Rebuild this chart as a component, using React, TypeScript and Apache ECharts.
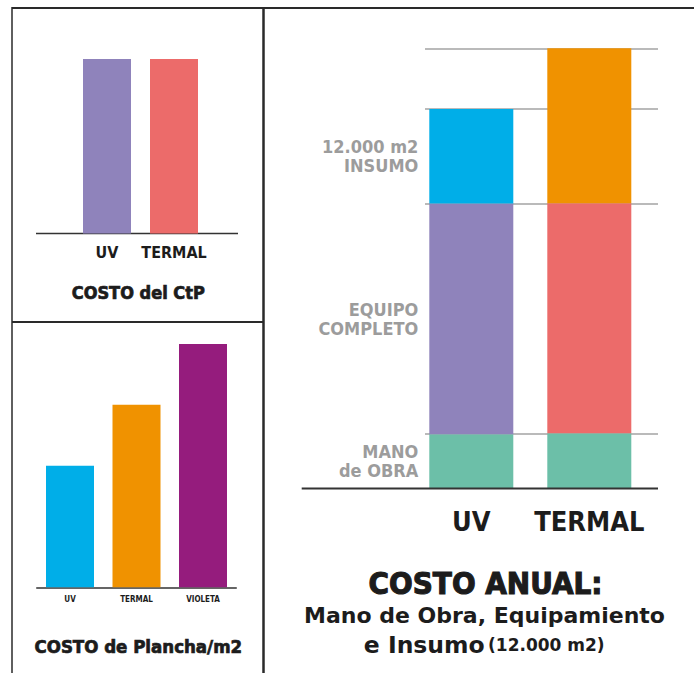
import React, { useEffect, useRef } from "react";
import * as echarts from "echarts";

// ---- Data ----
const ctpCategories = ["UV", "TERMAL"];
const ctpValues = [1, 1];
const ctpColors = ["#8f83bb", "#ec6b6a"];

const planchaCategories = ["UV", "TERMAL", "VIOLETA"];
const planchaValues = [2, 3, 4];
const planchaColors = ["#00aee8", "#f09200", "#951c7d"];

const anualCategories = ["UV", "TERMAL"];
const segmentNames = ["MANO\nde OBRA", "EQUIPO\nCOMPLETO", "12.000 m2\nINSUMO"];
const manoObra = [12.3, 12.5];
const equipo = [52.4, 52.3];
const insumo = [21.5, 35.2];
const manoColors = ["#6cbfa8", "#6cbfa8"];
const equipoColors = ["#8f83bb", "#ec6b6a"];
const insumoColors = ["#00aee8", "#f09200"];

const COND = '"DejaVu Sans Condensed", "DejaVu Sans", sans-serif';
const SANS = '"DejaVu Sans", sans-serif';
const DARK = "#1c1c1c";
const GRAY = "#9c9c9c";
const BORDER = "#2a2a2a";

export default function App() {
  const ref = useRef<HTMLDivElement>(null);

  useEffect(() => {
    document.body.style.margin = "0";
    document.body.style.overflow = "hidden";
    if (!ref.current) return;
    const chart = echarts.init(ref.current, undefined, { renderer: "svg" });

    const segments = [manoObra, equipo, insumo];
    const segColors = [manoColors, equipoColors, insumoColors];
    const totals = anualCategories.map((_, i) => segments.reduce((s, arr) => s + arr[i], 0));
    const maxTotal = Math.max(...totals);
    const gridValues = [manoObra[0], manoObra[0] + equipo[0], ...totals];

    const hiddenY = (max: number, gridIndex: number) => ({
      type: "value",
      gridIndex,
      min: 0,
      max,
      show: false,
    });

    const anualSeries = segments.map((arr, s) => ({
      type: "bar",
      name: segmentNames[s],
      stack: "anual",
      xAxisIndex: 2,
      yAxisIndex: 2,
      barWidth: 84,
      z: 3,
      label: {
        show: false,
        position: "left",
        distance: 11,
        formatter: segmentNames[s],
        color: GRAY,
        fontFamily: COND,
        fontWeight: "bold",
        fontSize: 18,
        lineHeight: 19,
        align: "right",
        verticalAlign: "middle",
      },
      data: arr.map((v, i) => ({
        value: v,
        itemStyle: { color: segColors[s][i] },
        label: { show: i === 0 },
      })),
    }));

    const catLabel = (margin: number, fontSize: number) => ({
      interval: 0,
      hideOverlap: false,
      margin,
      verticalAlign: "middle",
      color: DARK,
      fontFamily: COND,
      fontWeight: "bold",
      fontSize,
    });

    const heavy = (text: string, x: number, y: number, size: number, w: number) => ({
      type: "text",
      x,
      y,
      style: {
        text,
        fill: DARK,
        stroke: DARK,
        lineWidth: w,
        font: `bold ${size}px ${COND}`,
        align: "center",
        verticalAlign: "middle",
      },
    });

    const option: any = {
      animation: false,
      backgroundColor: "#ffffff",
      grid: [
        { left: 73.5, top: 59, width: 134, height: 174.5, outerBoundsMode: "none" },
        { left: 36.75, top: 344, width: 199.5, height: 243.3, outerBoundsMode: "none" },
        { left: 412.3, top: 48.3, width: 236, height: 440, outerBoundsMode: "none" },
        { left: 425, top: 48.3, width: 233, height: 440, outerBoundsMode: "none" },
      ],
      xAxis: [
        {
          type: "category",
          gridIndex: 0,
          data: ctpCategories,
          axisLine: { show: false },
          axisTick: { show: false },
          axisLabel: catLabel(18.7, 16),
        },
        {
          type: "category",
          gridIndex: 1,
          data: planchaCategories,
          axisLine: { show: true, lineStyle: { color: "#333", width: 1.5 } },
          axisTick: { show: false },
          axisLabel: catLabel(12, 8),
        },
        {
          type: "category",
          gridIndex: 2,
          data: anualCategories,
          axisLine: { show: false },
          axisTick: { show: false },
          axisLabel: catLabel(33.4, 27),
        },
        { type: "value", gridIndex: 3, min: 0, max: 1, show: false },
      ],
      yAxis: [
        hiddenY(Math.max(...ctpValues), 0),
        hiddenY(Math.max(...planchaValues), 1),
        hiddenY(maxTotal, 2),
        hiddenY(maxTotal, 3),
      ],
      series: [
        {
          type: "bar",
          xAxisIndex: 0,
          yAxisIndex: 0,
          barWidth: 48,
          data: ctpValues.map((v, i) => ({ value: v, itemStyle: { color: ctpColors[i] } })),
        },
        {
          type: "bar",
          xAxisIndex: 1,
          yAxisIndex: 1,
          barWidth: 48,
          data: planchaValues.map((v, i) => ({ value: v, itemStyle: { color: planchaColors[i] } })),
        },
        ...anualSeries,
        {
          type: "line",
          xAxisIndex: 3,
          yAxisIndex: 3,
          data: [],
          silent: true,
          markLine: {
            silent: true,
            z: 1,
            symbol: ["none", "none"],
            label: { show: false },
            lineStyle: { color: "#a3a3a3", width: 1.5, type: "solid" },
            data: gridValues.map((v) => ({ yAxis: v })),
          },
        },
      ],
      graphic: [
        // frame lines
        { type: "line", shape: { x1: 12, y1: 8, x2: 694, y2: 8 }, style: { stroke: BORDER, lineWidth: 2 } },
        { type: "line", shape: { x1: 12, y1: 7, x2: 12, y2: 673 }, style: { stroke: BORDER, lineWidth: 1.5 } },
        { type: "line", shape: { x1: 263.5, y1: 7, x2: 263.5, y2: 673 }, style: { stroke: BORDER, lineWidth: 2.5 } },
        { type: "line", shape: { x1: 12, y1: 322, x2: 263.5, y2: 322 }, style: { stroke: BORDER, lineWidth: 2 } },
        // baselines
        { type: "line", shape: { x1: 36, y1: 233.5, x2: 238, y2: 233.5 }, style: { stroke: "#333", lineWidth: 1.5 } },
        { type: "line", z: 10, shape: { x1: 301.7, y1: 488.5, x2: 658, y2: 488.5 }, style: { stroke: "#333", lineWidth: 2 } },
        // titles
        heavy("COSTO del CtP", 138.3, 292.2, 18, 0.7),
        heavy("COSTO de Plancha/m2", 138.3, 646.7, 18.5, 0.7),
        heavy("COSTO ANUAL:", 485.5, 583.3, 31, 1.1),
        {
          type: "text",
          x: 484.5,
          y: 615.8,
          style: {
            text: "Mano de Obra, Equipamiento",
            fill: DARK,
            font: `bold 22px ${SANS}`,
            align: "center",
            verticalAlign: "middle",
          },
        },
        {
          type: "text",
          x: 484.2,
          y: 644.5,
          style: {
            text: "{a|e Insumo} {b|(12.000 m2)}",
            fill: DARK,
            align: "center",
            verticalAlign: "middle",
            rich: {
              a: { fontFamily: SANS, fontWeight: "bold", fontSize: 23.5, fill: DARK },
              b: { fontFamily: SANS, fontWeight: "bold", fontSize: 17, fill: DARK },
            },
          },
        },
      ],
    };

    chart.setOption(option);
    return () => chart.dispose();
  }, []);

  return <div ref={ref} style={{ width: 694, height: 673 }} />;
}
